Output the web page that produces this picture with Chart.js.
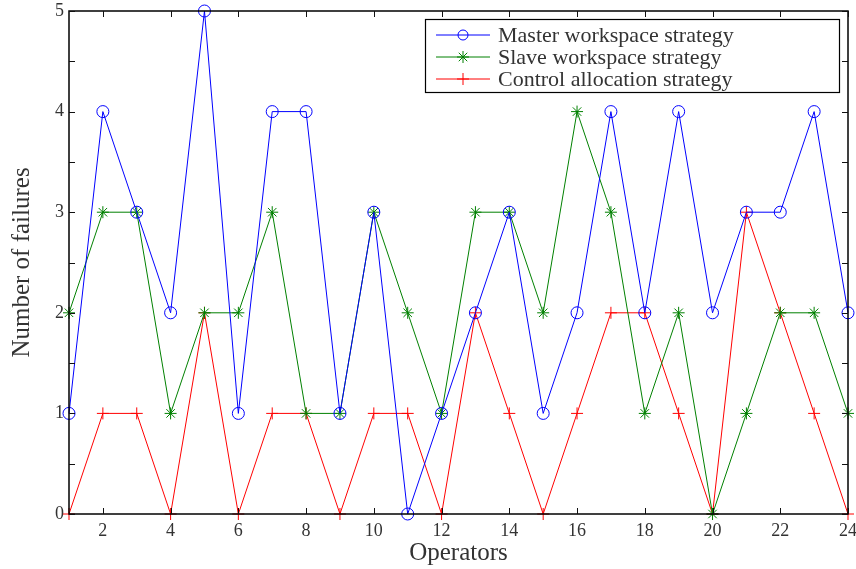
<!DOCTYPE html>
<html>
<head>
<meta charset="utf-8">
<script src="https://cdn.jsdelivr.net/npm/chart.js@4/dist/chart.umd.min.js"></script>
<style>
  html, body { margin: 0; padding: 0; background: #fff; }
  #wrap { width: 856px; height: 569px; }
</style>
</head>
<body>
<div id="wrap"><canvas id="c" width="856" height="569"></canvas></div>
<script>
// Operators 1..24 and the failures counted for each strategy
const operators = [1,2,3,4,5,6,7,8,9,10,11,12,13,14,15,16,17,18,19,20,21,22,23,24];
const masterFailures  = [1,4,3,2,5,1,4,4,1,3,0,1,2,3,1,2,4,2,4,2,3,3,4,2];
const slaveFailures   = [2,3,3,1,2,2,3,1,1,3,2,1,3,3,2,4,3,1,2,0,1,2,2,1];
const controlFailures = [0,1,1,0,2,0,1,1,0,1,1,0,2,1,0,1,2,2,1,0,3,2,1,0];

const seriesNames = ['Master workspace strategy', 'Slave workspace strategy', 'Control allocation strategy'];
const xTickValues = [2,4,6,8,10,12,14,16,18,20,22,24];
const yTickValues = [0,1,2,3,4,5];
const yMinorTickValues = [0.5,1.5,2.5,3.5,4.5];

const FONT = '"Liberation Serif", "DejaVu Serif", serif';
const TEXT = '#333333';

function pts(ys) { return operators.map((x, i) => ({ x: x, y: ys[i] })); }

// Marker drawing shared by the legend
function drawMarker(ctx, style, x, y, r, color) {
  ctx.save();
  ctx.strokeStyle = color;
  ctx.lineWidth = 1;
  ctx.beginPath();
  if (style === 'circle') {
    ctx.arc(x, y, r, 0, Math.PI * 2);
  } else if (style === 'cross') {
    ctx.moveTo(x - r, y); ctx.lineTo(x + r, y);
    ctx.moveTo(x, y - r); ctx.lineTo(x, y + r);
  } else if (style === 'star') {
    ctx.moveTo(x - r, y); ctx.lineTo(x + r, y);
    ctx.moveTo(x, y - r); ctx.lineTo(x, y + r);
    const d = r * 0.707;
    ctx.moveTo(x - d, y - d); ctx.lineTo(x + d, y + d);
    ctx.moveTo(x - d, y + d); ctx.lineTo(x + d, y - d);
  }
  ctx.stroke();
  ctx.restore();
}

// Box frame, inward ticks and the boxed legend
const frameAndLegend = {
  id: 'frameAndLegend',
  afterDatasetsDraw(chart) {
    const ctx = chart.ctx;
    const a = chart.chartArea;
    const xs = chart.scales.x, ys = chart.scales.y;
    ctx.save();
    ctx.strokeStyle = '#000';
    ctx.lineWidth = 1.5;
    ctx.strokeRect(a.left, a.top, a.right - a.left, a.bottom - a.top);

    ctx.lineWidth = 1;
    ctx.strokeStyle = '#111';
    const tl = 6;
    ctx.beginPath();
    xTickValues.forEach(v => {
      const px = Math.round(xs.getPixelForValue(v)) + 0.5;
      ctx.moveTo(px, a.bottom); ctx.lineTo(px, a.bottom - tl);
      ctx.moveTo(px, a.top); ctx.lineTo(px, a.top + tl);
    });
    yTickValues.concat(yMinorTickValues).forEach(v => {
      const py = Math.round(ys.getPixelForValue(v)) + 0.5;
      ctx.moveTo(a.left, py); ctx.lineTo(a.left + tl, py);
      ctx.moveTo(a.right, py); ctx.lineTo(a.right - tl, py);
    });
    ctx.stroke();

    // Legend box
    const bx = 425, by = 19, bw = 414, bh = 73;
    ctx.fillStyle = '#fff';
    ctx.fillRect(bx, by, bw, bh);
    ctx.strokeStyle = '#000';
    ctx.lineWidth = 1.2;
    ctx.strokeRect(bx + 0.5, by + 0.5, bw, bh);
    ctx.font = '22px ' + FONT;
    ctx.textBaseline = 'middle';
    ctx.textAlign = 'left';
    chart.data.datasets.forEach((ds, i) => {
      const yy = by + 16 + i * 22;
      ctx.strokeStyle = ds.borderColor;
      ctx.lineWidth = 1;
      ctx.beginPath();
      ctx.moveTo(436, yy); ctx.lineTo(490, yy);
      ctx.stroke();
      drawMarker(ctx, ds.pointStyle, 463, yy, ds.pointStyle === 'circle' ? 5 : 6, ds.borderColor);
      ctx.fillStyle = TEXT;
      ctx.fillText(ds.label, 498, yy + 1);
    });
    ctx.restore();
  }
};

const colors = ['#0000ff', '#008000', '#ff0000'];
const styles = ['circle', 'star', 'cross'];
const values = [masterFailures, slaveFailures, controlFailures];

new Chart(document.getElementById('c'), {
  type: 'line',
  data: {
    datasets: values.map((v, i) => ({
      label: seriesNames[i],
      data: pts(v),
      borderColor: colors[i],
      backgroundColor: 'rgba(0,0,0,0)',
      borderWidth: 1,
      pointStyle: styles[i],
      pointRadius: 6,
      pointBorderColor: colors[i],
      pointBackgroundColor: 'rgba(0,0,0,0)',
      pointBorderWidth: 1,
      tension: 0,
      clip: false
    }))
  },
  options: {
    responsive: false,
    animation: false,
    events: [],
    layout: { padding: { left: 0, right: 8, top: 11, bottom: 0 } },
    plugins: { legend: { display: false }, tooltip: { enabled: false } },
    scales: {
      x: {
        type: 'linear',
        min: 1, max: 24,
        afterBuildTicks: s => { s.ticks = xTickValues.map(v => ({ value: v })); },
        afterFit: s => { s.height = 55; s.paddingLeft = 0; s.paddingRight = 0; },
        grid: { display: false, drawTicks: false },
        border: { display: false },
        ticks: { color: TEXT, font: { family: FONT, size: 18 }, padding: 6, maxRotation: 0, autoSkip: false },
        title: { display: true, text: 'Operators', color: TEXT, font: { family: FONT, size: 25 }, padding: { top: 0, bottom: 1 } }
      },
      y: {
        type: 'linear',
        min: 0, max: 5,
        afterBuildTicks: s => { s.ticks = yTickValues.map(v => ({ value: v })); },
        afterFit: s => { s.width = 69; s.paddingTop = 0; s.paddingBottom = 0; },
        grid: { display: false, drawTicks: false },
        border: { display: false },
        ticks: { color: TEXT, font: { family: FONT, size: 18 }, padding: 5 },
        title: { display: true, text: 'Number of failures', color: TEXT, font: { family: FONT, size: 25 }, padding: { top: 7, bottom: 0 } }
      }
    }
  },
  plugins: [frameAndLegend]
});
</script>
</body>
</html>
